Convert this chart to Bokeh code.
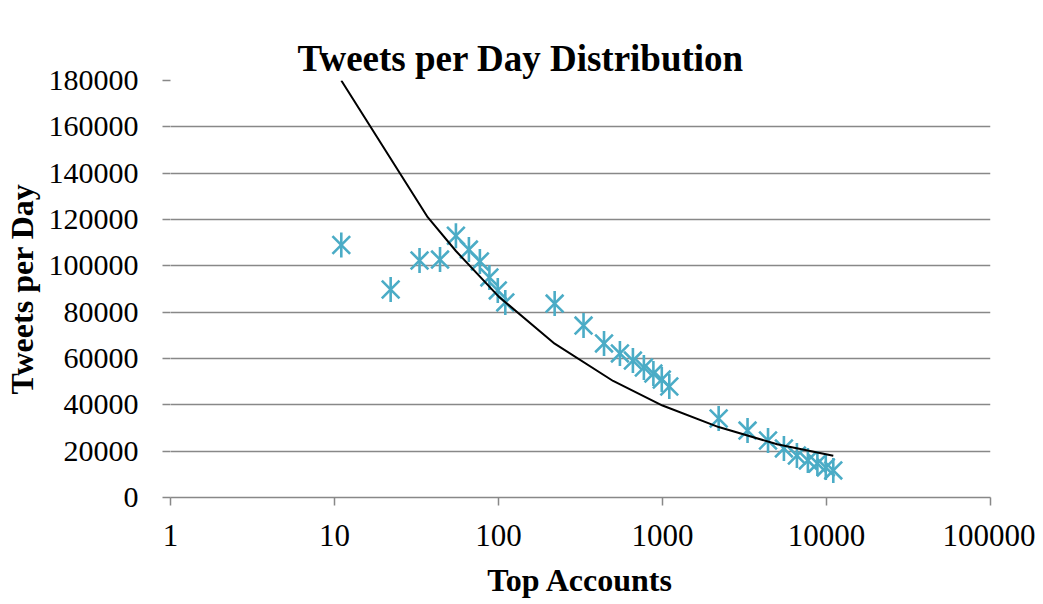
import math
from bokeh.plotting import figure
from bokeh.models import FixedTicker, PrintfTickFormatter, Range1d, ColumnDataSource, Title
from bokeh.embed import file_html
from bokeh.resources import INLINE

# ---- data ----
accounts = [11, 22, 33, 44, 55, 66, 77, 88, 99, 110,
            220, 330, 440, 550, 660, 770, 880, 990, 1100,
            2200, 3300, 4400, 5500, 6600, 7700, 8800, 9900, 11000]
tweets = [109000, 89800, 102300, 102700, 113000, 107000, 101900, 95000, 89400, 84200,
          83700, 74200, 66500, 62200, 59100, 56100, 53500, 50900, 47900,
          34100, 28900, 24600, 21200, 18100, 16000, 14700, 13000, 11700]

trend_x = [11, 37, 55, 100, 220, 500, 1000, 2200, 5000, 11000]
trend_y = [180000, 121000, 106400, 86800, 66400, 50300, 39700, 30400, 23000, 18000]

x_ticks = [1, 10, 100, 1000, 10000, 100000]
y_ticks = [0, 20000, 40000, 60000, 80000, 100000, 120000, 140000, 160000, 180000]

TITLE = "Tweets per Day Distribution"
FONT = "Liberation Serif"
GRID = "#888888"
MARK = "#4BACC6"

p = figure(frame_width=820, frame_height=417, x_axis_type="log",
           x_range=Range1d(1, 100000), y_range=Range1d(0, 180000),
           output_backend="svg", toolbar_location=None,
           min_border_left=160, min_border_right=45,
           min_border_top=80, min_border_bottom=0)

p.outline_line_color = None
p.background_fill_color = "white"
p.border_fill_color = "white"

# blank spacer next to the plot frame, then the chart title further out
p.add_layout(Title(text=" ", text_font_size="1px", text_alpha=0, standoff=34), "above")
p.add_layout(Title(text=TITLE, text_font=FONT, text_font_size="37px",
                   text_font_style="bold", text_color="black",
                   align="left", vertical_align="top", offset=127, standoff=0),
             "above")

# x axis
xa = p.xaxis[0]
xa.ticker = FixedTicker(ticks=x_ticks, minor_ticks=[])
xa.formatter = PrintfTickFormatter(format="%d")
xa.axis_label = "Top Accounts"
xa.axis_label_text_font = FONT
xa.axis_label_text_font_size = "32px"
xa.axis_label_text_font_style = "bold"
xa.axis_label_text_color = "black"
xa.axis_label_standoff = 13
xa.major_label_text_font = FONT
xa.major_label_text_font_size = "31px"
xa.major_label_text_color = "black"
xa.major_label_standoff = 19
xa.axis_line_color = GRID
xa.axis_line_width = 1.5
xa.major_tick_line_color = GRID
xa.major_tick_line_width = 1.5
xa.major_tick_out = 8
xa.major_tick_in = 0
xa.minor_tick_out = 0
xa.minor_tick_in = 0

# y axis
ya = p.yaxis[0]
ya.ticker = FixedTicker(ticks=y_ticks, minor_ticks=[])
ya.formatter = PrintfTickFormatter(format="%d")
ya.axis_label = "Tweets per Day"
ya.axis_label_text_font = FONT
ya.axis_label_text_font_size = "32px"
ya.axis_label_text_font_style = "bold"
ya.axis_label_text_color = "black"
ya.axis_label_standoff = 6
ya.major_label_text_font = FONT
ya.major_label_text_font_size = "30px"
ya.major_label_text_color = "black"
ya.major_label_standoff = 24
ya.axis_line_color = None
ya.major_tick_line_color = GRID
ya.major_tick_line_width = 1.5
ya.major_tick_out = 8
ya.major_tick_in = 0
ya.minor_tick_out = 0
ya.minor_tick_in = 0

p.xgrid.grid_line_color = None
p.ygrid.grid_line_color = GRID
p.ygrid.grid_line_width = 1.5

src = ColumnDataSource(dict(x=accounts, y=tweets))
p.scatter("x", "y", source=src, marker="x", size=25, line_color=MARK, line_width=2.6)
p.scatter("x", "y", source=src, marker="dash", angle=math.pi / 2, size=25,
          line_color=MARK, line_width=2.6)

p.line(trend_x, trend_y, line_color="black", line_width=2)

open("out.html", "w").write(file_html(p, INLINE))
